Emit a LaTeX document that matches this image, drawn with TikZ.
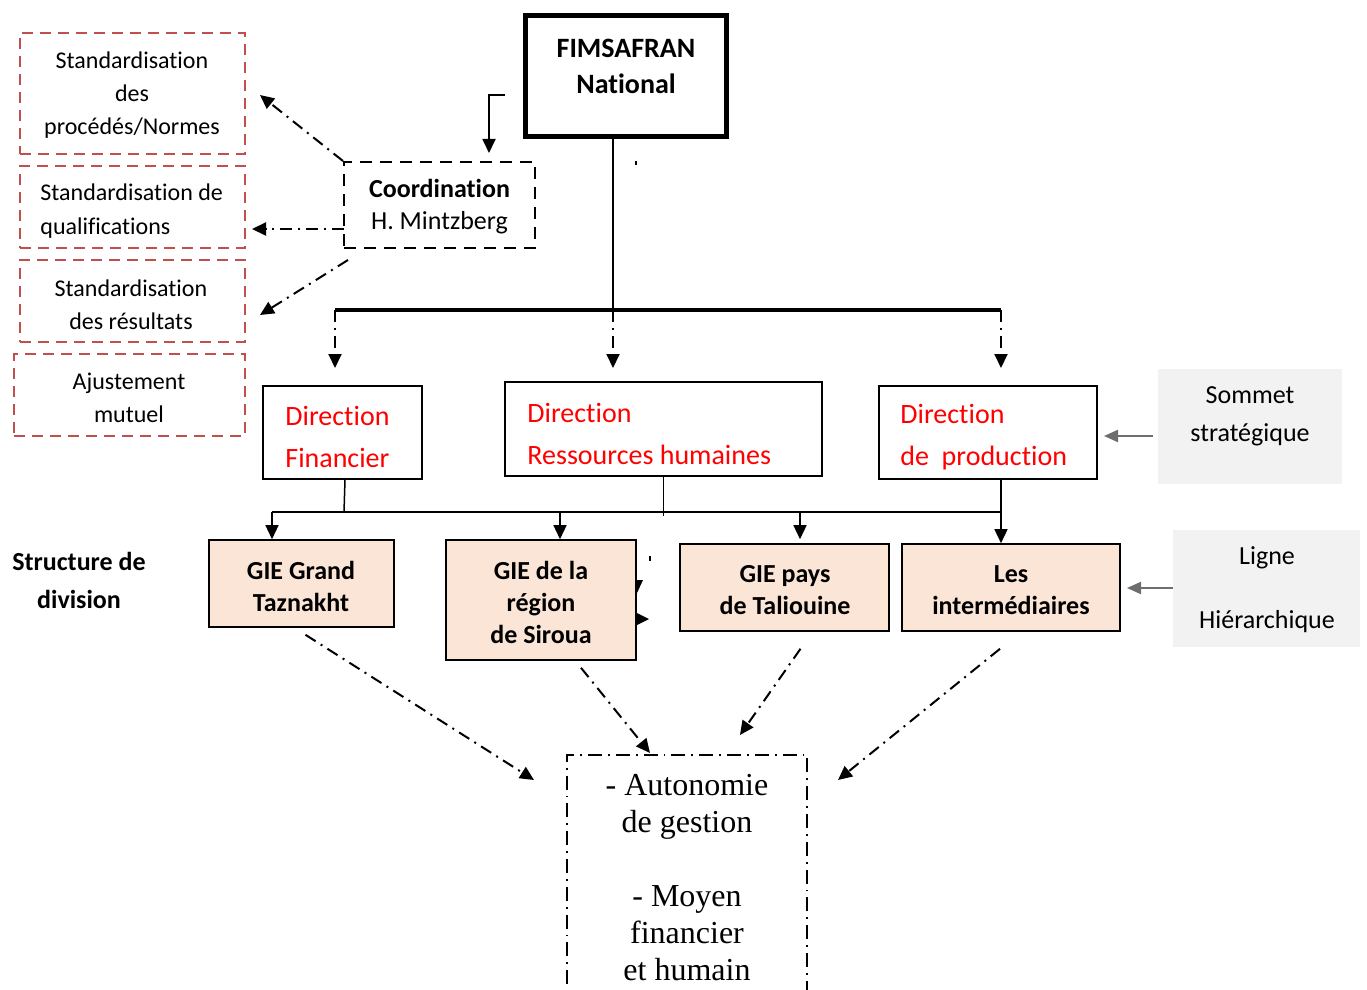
\documentclass[tikz,border=0pt]{standalone}
\usepackage{fontspec}
\setmainfont{Carlito}[RawFeature={-liga,-clig,-calt,-dlig}]
\newfontfamily\timesf{Liberation Serif}
\usetikzlibrary{arrows.meta,calc}
\definecolor{redd}{HTML}{C0504D}
\definecolor{peach}{HTML}{FBE5D6}
\definecolor{lgray}{HTML}{F2F2F2}
\definecolor{dirred}{HTML}{FF0000}
\definecolor{garr}{HTML}{6E6E6E}
\begin{document}
\begin{tikzpicture}[x=0.5pt,y=-0.5pt,
  tri/.style={-{Triangle[length=7pt,width=6.5pt]}},
  dashdot/.style={line width=1pt, dash pattern=on 6pt off 3pt on 1pt off 3pt},
  redbox/.style={draw=redd, line width=1pt, dash pattern=on 5.5pt off 3.5pt, inner sep=0pt},
  plainbox/.style={draw=black, line width=0.75pt, inner sep=0pt},
  giebox/.style={draw=black, line width=0.8pt, fill=peach, inner sep=0pt},
  graybox/.style={fill=lgray, inner sep=0pt},
  garrow/.style={draw=garr, line width=1.1pt, -{Triangle[length=7pt,width=6pt]}},
  txtA/.style={font=\fontsize{12}{16.5}\selectfont, inner sep=0pt},
  txtB/.style={font=\fontsize{13}{16}\selectfont, inner sep=0pt},
  txtD/.style={font=\fontsize{14}{21}\selectfont, text=dirred, inner sep=0pt, align=left, anchor=west},
  txtG/.style={font=\fontsize{13}{16}\selectfont\bfseries, inner sep=0pt, align=center},
]
\useasboundingbox (0,0) rectangle (1367,990);

% --- top box
\node[draw=black, line width=2.5pt, minimum width=100.5pt, minimum height=60.5pt, inner sep=0pt] (fims) at (626,76) {};
\node[font=\fontsize{14}{18}\selectfont\bfseries, align=center, inner sep=0pt] (fimst) at (626,66) {FIMSAFRAN\\National};

% --- coordination
\node[draw=black, line width=1pt, dash pattern=on 6pt off 4pt, minimum width=95.5pt, minimum height=43pt, inner sep=0pt] (coord) at (439.5,205) {};
\node[txtB, align=center] (coordt) at (439.5,207) {\textbf{Coordination}\\H. Mintzberg};

% --- red dashed boxes
\node[redbox, minimum width=112.5pt, minimum height=60.5pt] (r1) at (132.5,93.5) {};
\node[txtA, align=center] (t1) at (132,95) {Standardisation\\des\\procédés/Normes};
\node[redbox, minimum width=112.5pt, minimum height=41pt] (r2) at (132.5,207) {};
\node[txtA, align=left, anchor=west, font=\fontsize{12}{17}\selectfont] (t2) at (40,211) {Standardisation de\\qualifications};
\node[redbox, minimum width=112.5pt, minimum height=41pt] (r3) at (132.5,301) {};
\node[txtA, align=center] (t3) at (131,305) {Standardisation\\des résultats};
\node[redbox, minimum width=115.5pt, minimum height=41pt] (r4) at (129.5,395) {};
\node[txtA, align=center] (t4) at (129,398) {Ajustement\\mutuel};

% --- directions
\node[plainbox, minimum width=79.5pt, minimum height=46.5pt] (df) at (342.5,432.5) {};
\node[txtD] (dft) at (285,437) {Direction\\Financier};
\node[plainbox, minimum width=158.5pt, minimum height=47pt] (drh) at (663.5,429) {};
\node[txtD] (drht) at (527,434) {Direction\\Ressources humaines};
\node[plainbox, minimum width=109pt, minimum height=46.5pt] (dp) at (988,432.5) {};
\node[txtD] (dpt) at (900,437) {Direction\\de\ \ production};

% --- gray side boxes
\node[graybox, minimum width=92pt, minimum height=57.5pt] (som) at (1250,426.5) {};
\node[txtB, align=center, font=\fontsize{13}{19}\selectfont] (somt) at (1250,416) {Sommet\\stratégique};
\node[graybox, minimum width=93.5pt, minimum height=58.5pt] (lig) at (1266.5,588.5) {};
\node[txtB, align=center, font=\fontsize{13}{32}\selectfont] (ligt) at (1267,590) {Ligne\\Hiérarchique};

% --- GIE boxes
\node[giebox, minimum width=92.5pt, minimum height=43.5pt] (g1) at (301.5,583.5) {};
\node[txtG] (g1t) at (301,586) {GIE Grand\\Taznakht};
\node[giebox, minimum width=95pt, minimum height=60pt] (g2) at (541,600) {};
\node[txtG] (g2t) at (541,602) {GIE de la\\région\\de Siroua};
\node[giebox, minimum width=104.5pt, minimum height=43.5pt] (g3) at (784.5,587.5) {};
\node[txtG] (g3t) at (785,590) {GIE pays\\de Taliouine};
\node[giebox, minimum width=109pt, minimum height=43.5pt] (g4) at (1011,587.5) {};
\node[txtG] (g4t) at (1011,590) {Les\\intermédiaires};

\node[font=\fontsize{13}{19}\selectfont\bfseries, align=center, inner sep=0pt] (sdd) at (79,580) {Structure de\\division};

% --- bottom box
\node[draw=black, line width=0.9pt, dash pattern=on 7pt off 3pt on 0.9pt off 3pt, minimum width=120pt, minimum height=125pt, inner sep=0pt] (auto) at (687,880) {};
\node[font=\timesf\fontsize{16}{18.5}\selectfont, align=center, inner sep=0pt] (autot) at (687,878) {- Autonomie\\de gestion\\[18.5pt]- Moyen\\financier\\et humain};

% --- coordinates
\coordinate (barL) at (335,310);
\coordinate (barM) at (613,310);
\coordinate (barR) at (1001,310);
\coordinate (hL) at (272,512);
\coordinate (hR) at (1001,512);
\coordinate (hS) at (560,512);
\coordinate (hT) at (800,512);
\coordinate (c0) at (505,95);
\coordinate (c1) at (489,153);
\coordinate (a1) at (260,95);
\coordinate (a2s) at (344,229);
\coordinate (a2) at (252,229);
\coordinate (a3s) at (348,260);
\coordinate (a3) at (260,315);

% --- top connectors
\draw[line width=0.6pt] (fims.south -| barM) -- (barM);
\draw[line width=1.6pt] (barL) -- (barR);
\draw[dashdot, tri] (barL) -- ++(0,58);
\draw[dashdot, tri] (barM) -- ++(0,58);
\draw[dashdot, tri] (barR) -- ++(0,58);
\draw[line width=0.9pt, tri] (c0) -| (c1);
\draw[dashdot, tri] (coord.north west) -- (a1);
\draw[dashdot, tri] (a2s) -- (a2);
\draw[dashdot, tri] (a3s) -- (a3);

% --- direction connectors
\draw[line width=0.75pt] (df.south -| 345,0) -- (344,512);
\draw[line width=0.75pt] (hL) -- (hR);
\draw[line width=0.75pt] (drh.south) -- ++(0,39);
\draw[line width=0.75pt, tri] (dp.south -| hR) -- (g4.north -| hR);
\draw[line width=0.75pt, tri] (hL) -- (g1.north -| hL);
\draw[line width=0.75pt, tri] (hS) -- (g2.north -| hS);
\draw[line width=0.75pt, tri] (hT) -- ($(g3.north -| hT)+(0,-4)$);

% --- gray arrows
\draw[garrow] (som.west |- 0,436) ++(-5,0) -- (1104,436);
\draw[garrow] (lig.west |- 0,588) -- (1127,588);

% --- bottom arrows
\draw[dashdot, tri] ($(g1.south)+(4,7)$) -- (534,780);
\draw[dashdot, tri] ($(g2.south)+(40,7)$) -- (650,753);
\draw[dashdot, tri] ($(g3.south)+(16,17)$) -- (740,735);
\draw[dashdot, tri] ($(g4.south)+(-11,17)$) -- (838,780);

% --- stray marks
\draw[line width=0.6pt] (636,161) -- (636,165);
\draw[line width=0.6pt] (650,556) -- (650,561);
\fill (637,580) -- (643,580) -- (637,593) -- cycle;
\fill (637,613) -- (649,619) -- (637,625) -- cycle;
\end{tikzpicture}
\end{document}
